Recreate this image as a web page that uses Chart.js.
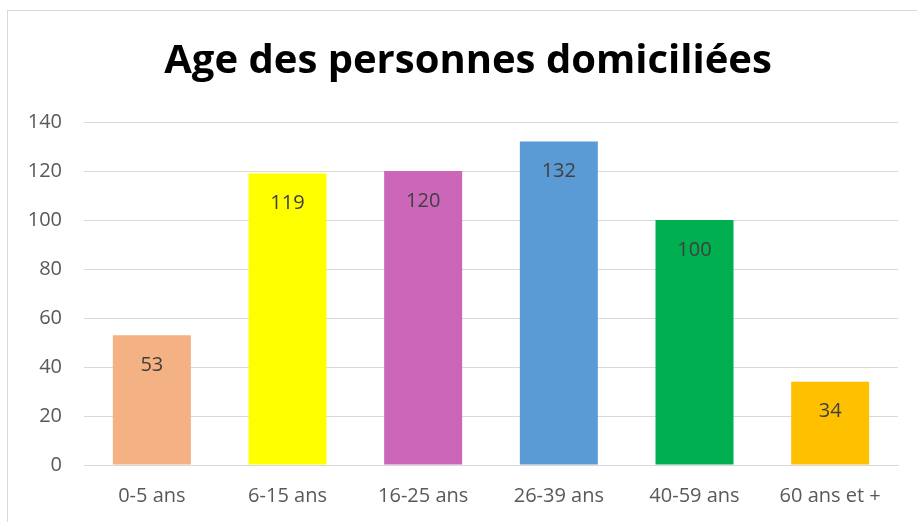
<!DOCTYPE html>
<html><head><meta charset="utf-8">
<script src="https://cdn.jsdelivr.net/npm/chart.js@4"></script>
<style>
html,body{margin:0;padding:0;background:#fff;overflow:hidden}
#wrap{position:relative;width:917px;height:522px}
#frame{position:absolute;left:7px;top:10px;width:1000px;height:1000px;border:1px solid #d9d9d9;box-sizing:border-box}
canvas{position:absolute;left:0;top:0}
</style></head>
<body>
<div id="wrap"><div id="frame"></div><canvas id="c" width="917" height="522"></canvas></div>
<script>
const categories = ["0-5 ans","6-15 ans","16-25 ans","26-39 ans","40-59 ans","60 ans et +"];
const values = [53,119,120,132,100,34];
const barColors = ["#F4B183","#FFFF00","#CC66B9","#5B9BD5","#00B050","#FFC000"];
const yTicks = [0,20,40,60,80,100,120,140];
const titleText = "Age des personnes domiciliées";

const labelPlugin = {
  id:'barLabels',
  afterDatasetsDraw(chart){
    const ctx = chart.ctx;
    const meta = chart.getDatasetMeta(0);
    ctx.save();
    ctx.font = '20px "Open Sans"';
    ctx.fillStyle = '#404040';
    ctx.textAlign = 'center';
    ctx.textBaseline = 'middle';
    meta.data.forEach((bar,i)=>{
      ctx.fillText(String(values[i]), bar.x, bar.y + 30);
    });
    ctx.restore();
  },
  afterDraw(chart){
    const ctx = chart.ctx;
    ctx.save();
    ctx.font = 'bold 40px "Open Sans"';
    ctx.fillStyle = '#000';
    ctx.textAlign = 'center';
    ctx.textBaseline = 'middle';
    ctx.fillText(titleText, 468, 62);
    ctx.restore();
  }
};

new Chart(document.getElementById('c'),{
  type:'bar',
  data:{labels:categories,datasets:[{data:values,backgroundColor:barColors,borderWidth:0,barPercentage:0.575,categoryPercentage:1}]},
  options:{
    responsive:false,animation:false,devicePixelRatio:1,
    layout:{padding:{left:0,right:19,top:122,bottom:0}},
    plugins:{legend:{display:false},tooltip:{enabled:false},title:{display:false}},
    scales:{
      x:{
        grid:{display:false,drawTicks:false},
        border:{display:true,color:'#d9d9d9',width:1},
        ticks:{color:'#595959',font:{family:'"Open Sans"',size:20},padding:19,maxRotation:0},
        afterFit(s){s.height=57;}
      },
      y:{
        min:0,max:140,
        afterBuildTicks(s){s.ticks=yTicks.map(v=>({value:v}));},
        grid:{color:'#d9d9d9',lineWidth:1,drawTicks:false},
        border:{display:false},
        ticks:{color:'#595959',font:{family:'"Open Sans"',size:20},padding:22},
        afterFit(s){s.width=84;}
      }
    }
  },
  plugins:[labelPlugin]
});
</script>
</body></html>
